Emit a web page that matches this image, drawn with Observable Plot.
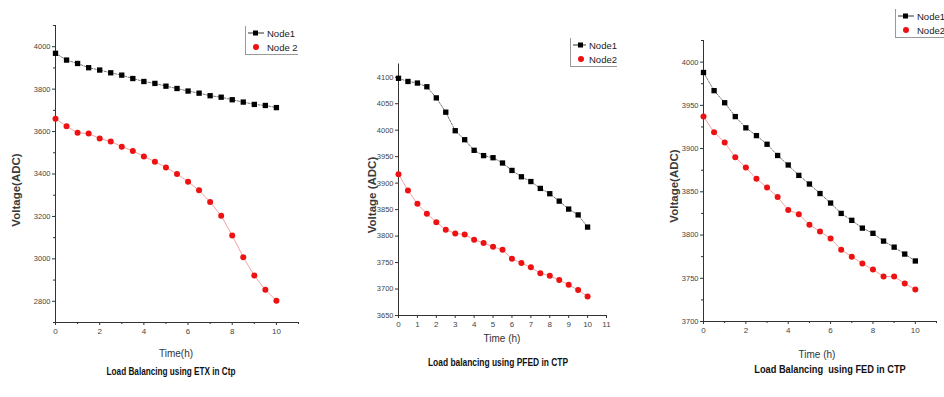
<!DOCTYPE html>
<html><head><meta charset="utf-8">
<script src="https://cdn.jsdelivr.net/npm/d3@7"></script>
<script src="https://cdn.jsdelivr.net/npm/@observablehq/plot@0.6"></script>
<style>
html,body{margin:0;padding:0;background:#fff;}
#wrap{position:relative;width:944px;height:397px;overflow:hidden;font-family:"Liberation Sans",Arial,sans-serif;}
.panel{position:absolute;top:0;}
.lbl{position:absolute;font-size:10px;color:#333;white-space:nowrap;}
.ttl{position:absolute;font-size:10.5px;font-weight:bold;color:#111;white-space:pre;}
.ylab{position:absolute;font-size:11.5px;font-weight:bold;color:#3a3a3a;white-space:nowrap;transform:translate(-50%,-50%) rotate(-90deg);}
.leg{position:absolute;border-left:1px solid #999;border-bottom:1px solid #999;font-size:9.5px;color:#222;}
.leg div{display:flex;align-items:center;height:14px;}
.leg svg{margin:0 3px 0 2px;}
</style></head>
<body><div id="wrap"></div>
<script>
// Time axis (hours)
const time = [0,0.5,1,1.5,2,2.5,3,3.5,4,4.5,5,5.5,6,6.5,7,7.5,8,8.5,9,9.5,10];

// Panel 1: ETX in Ctp
const etxNode1 = [3969,3937,3921,3901,3890,3877,3866,3850,3836,3827,3814,3803,3791,3781,3769,3762,3750,3739,3728,3723,3713];
const etxNode2 = [3661,3625,3594,3591,3567,3553,3529,3509,3483,3458,3431,3400,3364,3323,3268,3203,3110,3008,2921,2854,2803];

// Panel 2: PFED in CTP
const pfedNode1 = [4098,4092,4089,4082,4061,4034,3999,3982,3962,3952,3948,3938,3924,3912,3903,3890,3880,3866,3851,3840,3817];
const pfedNode2 = [3917,3886,3861,3842,3826,3812,3805,3803,3793,3787,3780,3774,3757,3749,3741,3730,3725,3717,3708,3698,3686];

// Panel 3: FED in CTP
const fedNode1 = [3988,3967,3953,3937,3924,3915,3905,3892,3881,3869,3859,3848,3837,3825,3817,3808,3802,3793,3786,3778,3770];
const fedNode2 = [3937,3919,3907,3890,3878,3865,3855,3844,3829,3824,3812,3804,3796,3783,3775,3767,3760,3752,3752,3744,3737];

// Tick labels
const etxYTicks = [2800,3000,3200,3400,3600,3800,4000];
const etxYMinor = [2700,2900,3100,3300,3500,3700,3900,4100];
const pfedYTicks = [3650,3700,3750,3800,3850,3900,3950,4000,4050,4100];
const fedYTicks = [3700,3750,3800,3850,3900,3950,4000];
const fedYMinor = [3725,3775,3825,3875,3925,3975,4025];
const evenXTicks = [0,2,4,6,8,10];
const oddXTicks = [1,3,5,7,9,11];
const allXTicks = [0,1,2,3,4,5,6,7,8,9,10,11];

const panels = [
  {left:0, width:300, mt:25, mb:75, ml:55, mr:2, ydom:[2700,4100], n1:etxNode1, n2:etxNode2,
   yMajor:etxYTicks, yMinor:etxYMinor, xMajor:evenXTicks, xMinor:oddXTicks,
   ylab:"Voltage(ADC)", ylabX:16, ylabY:190, xlab:"Time(h)", xlabX:176, xlabY:348,
   title:"Load Balancing using ETX in Ctp", titleX:171, titleY:365, titleS:0.78,
   leg:{x:245,y:26,w:52,names:["Node1","Node 2"]}},
  {left:330, width:300, mt:63.5, mb:82, ml:68, mr:24, ydom:[3650,4125], n1:pfedNode1, n2:pfedNode2,
   yMajor:pfedYTicks, yMinor:[], xMajor:allXTicks, xMinor:[],
   ylab:"Voltage (ADC)", ylabX:372, ylabY:195, xlab:"Time (h)", xlabX:502, xlabY:333,
   title:"Load balancing using PFED in CTP", titleX:498, titleY:356, titleS:0.8,
   leg:{x:570,y:38,w:46,names:["Node1","Node2"]}},
  {left:660, width:284, mt:40, mb:76, ml:43, mr:8, ydom:[3700,4025], n1:fedNode1, n2:fedNode2,
   yMajor:fedYTicks, yMinor:fedYMinor, xMajor:evenXTicks, xMinor:oddXTicks,
   ylab:"Voltage(ADC)", ylabX:674, ylabY:186, xlab:"Time (h)", xlabX:817, xlabY:349,
   title:"Load Balancing  using FED in CTP", titleX:830, titleY:363, titleS:0.88,
   leg:{x:895,y:9,w:52,names:["Node1","Node2"]}}
];

const wrap = document.getElementById("wrap");
for (const p of panels) {
  const d1 = time.map((t,i)=>({t, v:p.n1[i]}));
  const d2 = time.map((t,i)=>({t, v:p.n2[i]}));
  const marks = [
    Plot.axisY({ticks:p.yMajor, tickSize:3, tickPadding:2, fontSize:7.5, label:null, fill:"#444", tickFormat:d=>String(d)}),
    Plot.axisX({ticks:p.xMajor, tickSize:3, tickPadding:3, fontSize:8, label:null, fill:"#444", tickFormat:d=>String(d)}),
    Plot.ruleX([0], {stroke:"#333", strokeWidth:1}),
    Plot.ruleY([p.ydom[0]], {stroke:"#333", strokeWidth:1}),
    Plot.line(d2, {x:"t", y:"v", stroke:"#f08a8a", strokeWidth:0.8}),
    Plot.dot(d2, {x:"t", y:"v", fill:"#ee1111", r:3, stroke:null}),
    Plot.line(d1, {x:"t", y:"v", stroke:"#666", strokeWidth:0.9, strokeDasharray:"2,1.5"}),
    Plot.dot(d1, {x:"t", y:"v", symbol:"square", fill:"#000", r:3, stroke:null})
  ];
  if (p.yMinor.length) marks.push(Plot.axisY({ticks:p.yMinor, tickSize:2, tickFormat:()=>"", label:null}));
  if (p.xMinor.length) marks.push(Plot.axisX({ticks:p.xMinor, tickSize:2, tickFormat:()=>"", label:null}));
  const chart = Plot.plot({
    width:p.width, height:397,
    marginTop:p.mt, marginBottom:p.mb, marginLeft:p.ml, marginRight:p.mr,
    x:{domain:[0,11]}, y:{domain:p.ydom},
    style:{fontFamily:"'Liberation Sans', Arial, sans-serif", color:"#333", background:"transparent", overflow:"visible"},
    marks
  });
  chart.classList.add("panel");
  chart.style.left = p.left + "px";
  wrap.appendChild(chart);

  const yl = document.createElement("div");
  yl.className = "ylab"; yl.textContent = p.ylab;
  yl.style.left = p.ylabX + "px";
  yl.style.top = p.ylabY + "px";
  wrap.appendChild(yl);

  const xl = document.createElement("div");
  xl.className = "lbl"; xl.textContent = p.xlab;
  xl.style.left = p.xlabX + "px"; xl.style.top = p.xlabY + "px";
  xl.style.transform = "translateX(-50%)";
  wrap.appendChild(xl);

  const tt = document.createElement("div");
  tt.className = "ttl"; tt.textContent = p.title;
  tt.style.left = p.titleX + "px"; tt.style.top = p.titleY + "px";
  tt.style.transform = `translateX(-50%) scaleX(${p.titleS})`;
  wrap.appendChild(tt);

  const lg = document.createElement("div");
  lg.className = "leg";
  lg.style.left = p.leg.x + "px"; lg.style.top = p.leg.y + "px"; lg.style.width = p.leg.w + "px";
  lg.innerHTML =
    `<div><svg width="16" height="8"><line x1="0" y1="4" x2="16" y2="4" stroke="#333" stroke-width="1"/><rect x="5" y="1.5" width="5" height="5" fill="#000"/></svg>${p.leg.names[0]}</div>` +
    `<div><svg width="16" height="8"><circle cx="8" cy="4" r="3" fill="#ee1111"/></svg>${p.leg.names[1]}</div>`;
  wrap.appendChild(lg);
}
</script></body></html>
